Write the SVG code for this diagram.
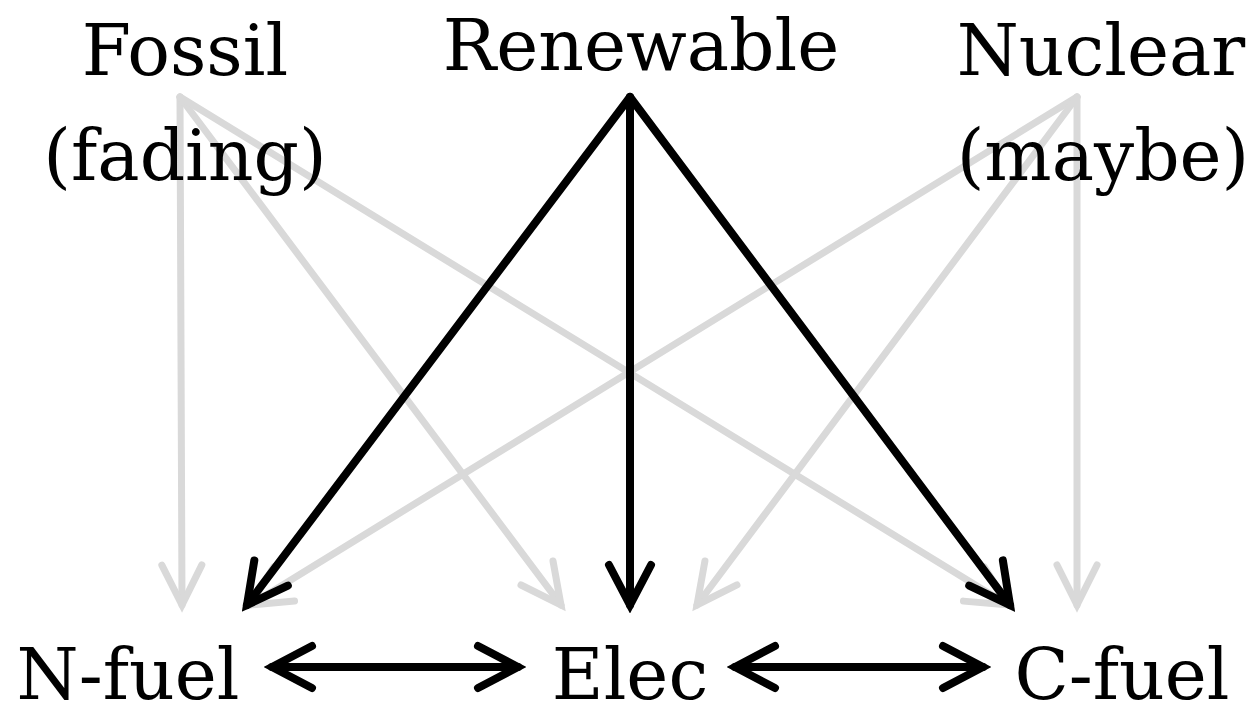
<svg xmlns="http://www.w3.org/2000/svg" width="1259" height="706" viewBox="0 0 1259 706">
<style>
text{font-family:"DejaVu Serif","Liberation Serif",serif;font-size:71px;fill:#000;text-anchor:middle}
.g{stroke:#d9d9d9;stroke-width:7;fill:none;stroke-linecap:round}
.b{stroke:#000;stroke-width:8;fill:none;stroke-linecap:round}
</style>
<defs>
<marker id="ag" viewBox="-48 -28 56 56" refX="0" refY="0" markerWidth="56" markerHeight="56" markerUnits="userSpaceOnUse" orient="auto">
<path d="M-40,-20 L0,0 L-40,20" fill="none" stroke="#d9d9d9" stroke-width="7" stroke-linecap="round" stroke-miterlimit="10"/>
</marker>
<marker id="ab" viewBox="-48 -28 56 56" refX="0" refY="0" markerWidth="56" markerHeight="56" markerUnits="userSpaceOnUse" orient="auto-start-reverse">
<path d="M-40,-21 L0,0 L-40,21" fill="none" stroke="#000" stroke-width="8" stroke-linecap="round" stroke-miterlimit="10"/>
</marker>
</defs>
<g id="connectors">
<g id="gray">
<line class="g" x1="180" y1="97" x2="182" y2="605" marker-end="url(#ag)"/>
<line class="g" x1="180" y1="97" x2="561" y2="605" marker-end="url(#ag)"/>
<line class="g" x1="180" y1="97" x2="1008" y2="605" marker-end="url(#ag)"/>
<line class="g" x1="1077" y1="97" x2="250" y2="605" marker-end="url(#ag)"/>
<line class="g" x1="1077" y1="97" x2="697" y2="605" marker-end="url(#ag)"/>
<line class="g" x1="1077" y1="97" x2="1077" y2="605" marker-end="url(#ag)"/>
</g>
<g id="black">
<line class="b" x1="630" y1="97" x2="247" y2="605" marker-end="url(#ab)"/>
<line class="b" x1="630" y1="97" x2="630" y2="605" marker-end="url(#ab)"/>
<line class="b" x1="630" y1="97" x2="1010" y2="605" marker-end="url(#ab)"/>
<line class="b" x1="272" y1="667" x2="518" y2="667" marker-start="url(#ab)" marker-end="url(#ab)"/>
<line class="b" x1="735" y1="667" x2="983" y2="667" marker-start="url(#ab)" marker-end="url(#ab)"/>
</g>
</g>
<g id="fossil"><text x="185" y="75">Fossil</text><text x="185" y="180">(fading)</text></g>
<g id="renewable"><text x="641" y="70">Renewable</text></g>
<g id="nuclear"><text x="1101" y="75">Nuclear</text><text x="1103" y="180">(maybe)</text></g>
<g id="nfuel"><text x="128" y="699">N-fuel</text></g>
<g id="elec"><text x="630" y="699">Elec</text></g>
<g id="cfuel"><text x="1122" y="699">C-fuel</text></g>
</svg>
